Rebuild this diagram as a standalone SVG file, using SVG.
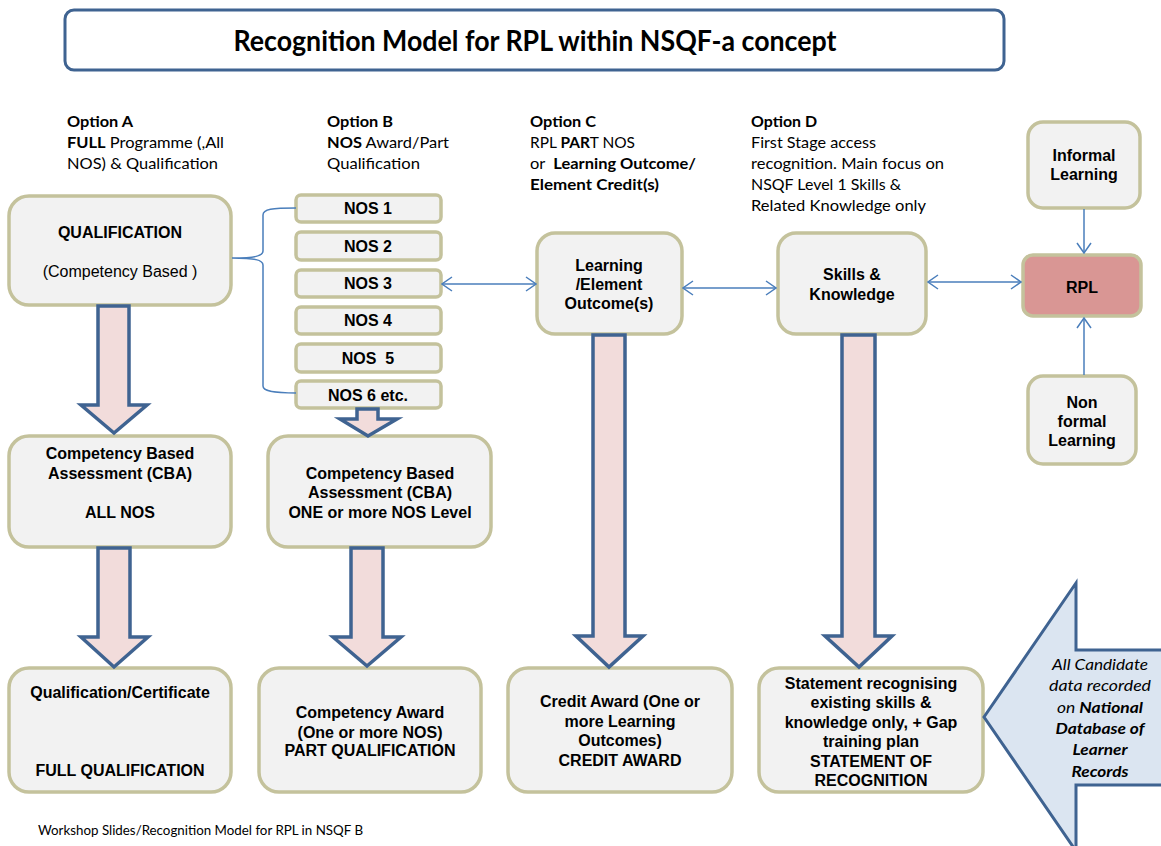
<svg xmlns="http://www.w3.org/2000/svg" width="1161" height="846" viewBox="0 0 1161 846">
  <style>
    .box { fill: #f2f2f2; stroke: #c4c29c; stroke-width: 3.5; }
    .rpl { fill: #d99694; stroke: #c4c29c; stroke-width: 3.5; }
    .fat { fill: #f2dcdb; stroke: #3f6391; stroke-width: 3.5; stroke-linejoin: miter; }
    .db { fill: #dbe5f1; stroke: #3f6391; stroke-width: 3; }
    .link { fill: none; stroke: #4a7ebb; stroke-width: 1.5; }
    .b { font-family: "Liberation Sans", Arial, sans-serif; font-weight: bold; font-size: 16px; fill: #000; text-anchor: middle; }
    .r { font-family: "Liberation Sans", Arial, sans-serif; font-size: 16px; fill: #000; text-anchor: middle; }
    .c { font-family: Lato, "Open Sans", sans-serif; font-size: 16px; fill: #000; }
    .cb { font-weight: bold; }
    .ci { font-family: Lato, "Open Sans", sans-serif; font-style: italic; font-size: 16px; fill: #000; text-anchor: middle; }
    .heading { font-family: Lato, "Open Sans", sans-serif; font-weight: bold; font-size: 28px; fill: #000; text-anchor: middle; }
    .foot { font-family: Lato, "Open Sans", sans-serif; font-size: 12.5px; fill: #000; }
  </style>
  <defs>
    <marker id="chev" viewBox="0 0 12 16" refX="11" refY="8" markerWidth="12" markerHeight="16" markerUnits="userSpaceOnUse" orient="auto-start-reverse">
      <path d="M1,1 L11,8 L1,15" fill="none" stroke="#4a7ebb" stroke-width="1.5"/>
    </marker>
  </defs>

  <rect width="1161" height="846" fill="#ffffff"/>

  <!-- heading -->
  <g id="title">
    <rect x="65" y="10" width="939" height="60" rx="9" fill="#ffffff" stroke="#3f6391" stroke-width="3"/>
    <text x="535" y="51" class="heading" textLength="603" lengthAdjust="spacingAndGlyphs">Recognition Model for RPL within NSQF-a concept</text>
  </g>

  <!-- option captions -->
  <g id="option-a">
    <text x="67" y="127" class="c cb" textLength="66" lengthAdjust="spacingAndGlyphs">Option A</text>
    <text x="67" y="148" class="c" textLength="157" lengthAdjust="spacingAndGlyphs"><tspan class="cb">FULL</tspan> Programme (,All</text>
    <text x="67" y="169" class="c" textLength="151" lengthAdjust="spacingAndGlyphs">NOS) &amp; Qualification</text>
  </g>
  <g id="option-b">
    <text x="327" y="127" class="c cb" textLength="66" lengthAdjust="spacingAndGlyphs">Option B</text>
    <text x="327" y="148" class="c" textLength="122" lengthAdjust="spacingAndGlyphs"><tspan class="cb">NOS</tspan> Award/Part</text>
    <text x="327" y="169" class="c" textLength="93" lengthAdjust="spacingAndGlyphs">Qualification</text>
  </g>
  <g id="option-c">
    <text x="530" y="127" class="c cb" textLength="66" lengthAdjust="spacingAndGlyphs">Option C</text>
    <text x="530" y="148" class="c" textLength="105" lengthAdjust="spacingAndGlyphs">RPL <tspan class="cb">PAR</tspan>T NOS</text>
    <text x="530" y="169" class="c" textLength="166" lengthAdjust="spacingAndGlyphs" xml:space="preserve">or  <tspan class="cb">Learning Outcome/</tspan></text>
    <text x="530" y="190" class="c cb" textLength="129" lengthAdjust="spacingAndGlyphs">Element Credit(s)</text>
  </g>
  <g id="option-d">
    <text x="751" y="127" class="c cb" textLength="66" lengthAdjust="spacingAndGlyphs">Option D</text>
    <text x="751" y="148" class="c" textLength="125" lengthAdjust="spacingAndGlyphs">First Stage access</text>
    <text x="751" y="169" class="c" textLength="193" lengthAdjust="spacingAndGlyphs">recognition. Main focus on</text>
    <text x="751" y="190" class="c" textLength="150" lengthAdjust="spacingAndGlyphs">NSQF Level 1 Skills &amp;</text>
    <text x="751" y="211" class="c" textLength="175" lengthAdjust="spacingAndGlyphs">Related Knowledge only</text>
  </g>

  <!-- nodes -->
  <g id="qualification">
    <rect class="box" x="9" y="196" width="222" height="109" rx="20"/>
    <text class="b" x="120" y="238">QUALIFICATION</text>
    <text class="r" x="120" y="277">(Competency Based )</text>
  </g>
  <g id="nos1"><rect class="box" x="296" y="195" width="145" height="27" rx="5"/><text class="b" x="368" y="214">NOS 1</text></g>
  <g id="nos2"><rect class="box" x="296" y="232" width="145" height="28" rx="5"/><text class="b" x="368" y="252">NOS 2</text></g>
  <g id="nos3"><rect class="box" x="296" y="270" width="145" height="27" rx="5"/><text class="b" x="368" y="289">NOS 3</text></g>
  <g id="nos4"><rect class="box" x="296" y="307" width="145" height="27" rx="5"/><text class="b" x="368" y="326">NOS 4</text></g>
  <g id="nos5"><rect class="box" x="296" y="344" width="145" height="28" rx="5"/><text class="b" x="368" y="364" xml:space="preserve">NOS  5</text></g>
  <g id="nos6"><rect class="box" x="296" y="381" width="145" height="27" rx="5"/><text class="b" x="368" y="401">NOS 6 etc.</text></g>

  <g id="learning-outcomes">
    <rect class="box" x="537" y="233" width="145" height="101" rx="18"/>
    <text class="b" x="609" y="271">Learning</text>
    <text class="b" x="609" y="290">/Element</text>
    <text class="b" x="609" y="309">Outcome(s)</text>
  </g>
  <g id="skills-knowledge">
    <rect class="box" x="778" y="233" width="148" height="101" rx="18"/>
    <text class="b" x="852" y="280">Skills &amp;</text>
    <text class="b" x="852" y="300">Knowledge</text>
  </g>
  <g id="informal">
    <rect class="box" x="1028" y="122" width="112" height="86" rx="15"/>
    <text class="b" x="1084" y="161">Informal</text>
    <text class="b" x="1084" y="180">Learning</text>
  </g>
  <g id="rpl">
    <rect class="rpl" x="1023" y="255" width="118" height="61" rx="10"/>
    <text class="b" x="1082" y="293">RPL</text>
  </g>
  <g id="non-formal">
    <rect class="box" x="1028" y="376" width="108" height="88" rx="15"/>
    <text class="b" x="1082" y="408">Non</text>
    <text class="b" x="1082" y="427">formal</text>
    <text class="b" x="1082" y="446">Learning</text>
  </g>

  <g id="cba-all">
    <rect class="box" x="9" y="436" width="222" height="111" rx="20"/>
    <text class="b" x="120" y="459">Competency Based</text>
    <text class="b" x="120" y="479">Assessment (CBA)</text>
    <text class="b" x="120" y="518">ALL NOS</text>
  </g>
  <g id="cba-part">
    <rect class="box" x="268" y="436" width="223" height="111" rx="20"/>
    <text class="b" x="380" y="479">Competency Based</text>
    <text class="b" x="380" y="498">Assessment (CBA)</text>
    <text class="b" x="380" y="518">ONE or more NOS Level</text>
  </g>

  <g id="full-qualification">
    <rect class="box" x="9" y="668" width="222" height="124" rx="20"/>
    <text class="b" x="120" y="698">Qualification/Certificate</text>
    <text class="b" x="120" y="776">FULL QUALIFICATION</text>
  </g>
  <g id="competency-award">
    <rect class="box" x="259" y="668" width="222" height="124" rx="20"/>
    <text class="b" x="370" y="718">Competency Award</text>
    <text class="b" x="370" y="738">(One or more NOS)</text>
    <text class="b" x="370" y="756">PART QUALIFICATION</text>
  </g>
  <g id="credit-award">
    <rect class="box" x="508" y="668" width="224" height="124" rx="20"/>
    <text class="b" x="620" y="707">Credit Award (One or</text>
    <text class="b" x="620" y="727">more Learning</text>
    <text class="b" x="620" y="746">Outcomes)</text>
    <text class="b" x="620" y="766">CREDIT AWARD</text>
  </g>
  <g id="statement">
    <rect class="box" x="759" y="668" width="224" height="124" rx="20"/>
    <text class="b" x="871" y="689">Statement recognising</text>
    <text class="b" x="871" y="708">existing skills &amp;</text>
    <text class="b" x="871" y="728">knowledge only, + Gap</text>
    <text class="b" x="871" y="747">training plan</text>
    <text class="b" x="871" y="767">STATEMENT OF</text>
    <text class="b" x="871" y="786">RECOGNITION</text>
  </g>

  <!-- learner records callout -->
  <g id="learner-records">
    <polygon class="db" points="984,717 1076,583 1076,650 1166,650 1166,785 1076,785 1076,851"/>
    <text class="ci" x="1100" y="670" textLength="96" lengthAdjust="spacingAndGlyphs">All Candidate</text>
    <text class="ci" x="1100" y="691" textLength="102" lengthAdjust="spacingAndGlyphs">data recorded</text>
    <text class="ci" x="1100" y="713" textLength="86" lengthAdjust="spacingAndGlyphs">on <tspan font-weight="bold">National</tspan></text>
    <text class="ci" x="1100" y="734" font-weight="bold" textLength="89" lengthAdjust="spacingAndGlyphs">Database of</text>
    <text class="ci" x="1100" y="755" font-weight="bold" textLength="55" lengthAdjust="spacingAndGlyphs">Learner</text>
    <text class="ci" x="1100" y="777" font-weight="bold" textLength="57" lengthAdjust="spacingAndGlyphs">Records</text>
  </g>

  <!-- connectors -->
  <g id="connectors">
    <!-- brace grouping the NOS units under the qualification -->
    <path class="link" d="M296,208 C272,208 263,209 263,215 L263,251 C263,256 255,258 232,258 C255,258 263,260 263,265 L263,386 C263,391 272,393 296,393"/>
    <line class="link" x1="442" y1="284" x2="536" y2="284" marker-start="url(#chev)" marker-end="url(#chev)"/>
    <line class="link" x1="683" y1="288" x2="776" y2="288" marker-start="url(#chev)" marker-end="url(#chev)"/>
    <line class="link" x1="928" y1="282" x2="1021" y2="282" marker-start="url(#chev)" marker-end="url(#chev)"/>
    <line class="link" x1="1084" y1="209" x2="1084" y2="253" marker-end="url(#chev)"/>
    <line class="link" x1="1084" y1="375" x2="1084" y2="318" marker-end="url(#chev)"/>

    <!-- block arrows -->
    <polygon class="fat" points="98,306 129,306 129,405 147,405 114,433 81,405 98,405"/>
    <polygon class="fat" points="357,409 378,409 378,419 397,419 368,436 340,419 357,419"/>
    <polygon class="fat" points="98,548 130,548 130,637 148,637 114,667 81,637 98,637"/>
    <polygon class="fat" points="351,548 383,548 383,637 401,637 367,666 333,637 351,637"/>
    <polygon class="fat" points="593,335 625,335 625,636 643,636 609,667 576,636 593,636"/>
    <polygon class="fat" points="842,335 875,335 875,636 892,636 859,667 825,636 842,636"/>
  </g>

  <text x="38" y="835" class="foot" textLength="325" lengthAdjust="spacingAndGlyphs">Workshop Slides/Recognition Model for RPL in NSQF B</text>
</svg>
